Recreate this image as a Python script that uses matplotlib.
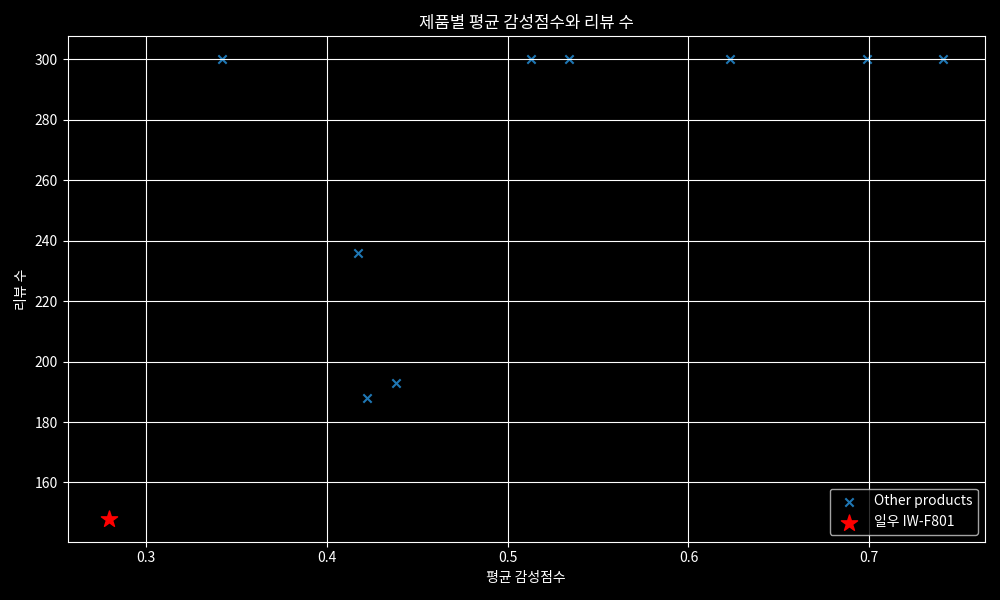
import matplotlib
matplotlib.use("Agg")
import matplotlib.pyplot as plt

# other products: (mean sentiment score, review count)
other_scores = [0.342, 0.513, 0.534, 0.623, 0.699, 0.741, 0.417, 0.422, 0.438]
other_reviews = [300, 300, 300, 300, 300, 300, 236, 188, 193]

target_name = "일우 IW-F801"
target_score = [0.2795]
target_reviews = [148]

plt.style.use("dark_background")
plt.rcParams['font.family'] = ['Noto Sans CJK KR', 'DejaVu Sans']
plt.rcParams['axes.unicode_minus'] = False

fig, ax = plt.subplots(figsize=(10, 6), dpi=100)
ax.scatter(other_scores, other_reviews, marker='x', color='#1f77b4', label='Other products')
ax.scatter(target_score, target_reviews, marker='*', color='red', s=150, label=target_name)

ax.set_title("제품별 평균 감성점수와 리뷰 수")
ax.set_xlabel("평균 감성점수")
ax.set_ylabel("리뷰 수")
ax.grid(True)
ax.legend(loc='lower right')

plt.tight_layout()
plt.savefig("out.png")
